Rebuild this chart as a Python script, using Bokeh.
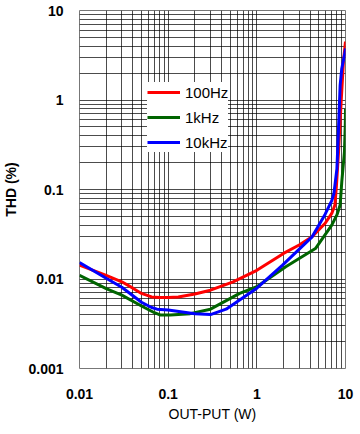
from bokeh.plotting import figure
from bokeh.models import FixedTicker, Legend, LegendItem
from bokeh.embed import file_html
from bokeh.resources import INLINE

# Data
x_100 = [0.01, 0.02, 0.03, 0.04, 0.05, 0.065, 0.08, 0.1, 0.13, 0.2, 0.3, 0.54, 1.0, 2.0, 3.0, 4.2, 5.9, 7.0, 7.6, 7.9, 8.34, 8.93, 9.48, 10.0]
y_100 = [0.0143, 0.011, 0.0093, 0.0079, 0.0069, 0.0063, 0.0062, 0.0062, 0.0063, 0.0068, 0.0075, 0.0093, 0.0125, 0.0193, 0.024, 0.0296, 0.042, 0.054, 0.067, 0.11, 0.26, 0.95, 2.7, 4.5]

x_1k = [0.01, 0.02, 0.03, 0.05, 0.07, 0.082, 0.106, 0.177, 0.3, 0.64, 1.0, 2.12, 4.58, 7.0, 8.0, 8.7, 9.08, 9.73, 9.95, 10.0]
y_1k = [0.011, 0.0078, 0.0066, 0.005, 0.0042, 0.00395, 0.00395, 0.0041, 0.0046, 0.0069, 0.0082, 0.0137, 0.0219, 0.04, 0.052, 0.067, 0.122, 0.264, 0.55, 0.8]

x_10k = [0.01, 0.02, 0.03, 0.05, 0.065, 0.075, 0.1, 0.2, 0.3, 0.45, 1.0, 1.95, 4.2, 5.9, 7.0, 7.4, 8.0, 8.34, 8.7, 9.08, 9.9, 10.0]
y_10k = [0.0153, 0.0102, 0.0081, 0.0055, 0.0048, 0.0046, 0.0045, 0.0041, 0.0040, 0.0046, 0.0079, 0.0143, 0.0296, 0.053, 0.075, 0.09, 0.17, 0.48, 1.46, 2.25, 3.45, 3.76]

series_labels = ["100Hz", "1kHz", "10kHz"]
series_colors = ["#ff0000", "#006400", "#0000ff"]

x_ticks = [0.01, 0.1, 1, 10]
y_ticks = [0.001, 0.01, 0.1, 1, 10]
x_tick_labels = {0.01: "0.01", 0.1: "0.1", 1: "1", 10: "10"}
y_tick_labels = {0.001: "0.001", 0.01: "0.01", 0.1: "0.1", 1: "1", 10: "10"}

def minors(decades):
    out = []
    for d in decades:
        for m in range(2, 10):
            out.append(round(m * d, 6))
    return out

p = figure(width=356, height=428, x_axis_type="log", y_axis_type="log",
           x_range=(0.01, 10), y_range=(0.001, 10),
           output_backend="svg", toolbar_location=None,
           min_border_left=76, min_border_right=11, min_border_top=10, min_border_bottom=60)

p.background_fill_color = "white"
p.border_fill_color = "white"
p.outline_line_color = "#777777"

p.xaxis.ticker = FixedTicker(ticks=x_ticks, minor_ticks=minors([0.01, 0.1, 1]))
p.yaxis.ticker = FixedTicker(ticks=y_ticks, minor_ticks=minors([0.001, 0.01, 0.1, 1]))
p.xaxis.major_label_overrides = x_tick_labels
p.yaxis.major_label_overrides = y_tick_labels

for ax in (p.xaxis, p.yaxis):
    ax.axis_line_color = None
    ax.major_tick_line_color = None
    ax.minor_tick_line_color = None
    ax.major_tick_out = 0
    ax.minor_tick_out = 0
    ax.major_tick_in = 0
    ax.minor_tick_in = 0
    ax.major_label_text_font = "Liberation Sans"
    ax.major_label_text_font_size = "14px"
    ax.major_label_text_font_style = "bold"
    ax.major_label_text_color = "black"
    ax.axis_label_text_font = "Liberation Sans"
    ax.axis_label_text_font_size = "14px"
    ax.axis_label_text_color = "black"

p.xaxis.major_label_standoff = 20
p.yaxis.major_label_standoff = 16
p.xaxis.axis_label = "OUT-PUT (W)"
p.yaxis.axis_label = "THD (%)"
p.xaxis.axis_label_text_font_style = "normal"
p.yaxis.axis_label_text_font_style = "bold"
p.xaxis.axis_label_standoff = 4
p.yaxis.axis_label_standoff = 6

for g in (p.xgrid, p.ygrid):
    g.grid_line_color = "black"
    g.grid_line_alpha = 0.7
    g.grid_line_width = 1
    g.minor_grid_line_color = "black"
    g.minor_grid_line_alpha = 0.7
    g.minor_grid_line_width = 1

r1 = p.line(x_100, y_100, line_color=series_colors[0], line_width=3, line_join="round")
r2 = p.line(x_1k, y_1k, line_color=series_colors[1], line_width=3, line_join="round")
r3 = p.line(x_10k, y_10k, line_color=series_colors[2], line_width=3, line_join="round")

legend = Legend(items=[LegendItem(label=series_labels[0], renderers=[r1]),
                       LegendItem(label=series_labels[1], renderers=[r2]),
                       LegendItem(label=series_labels[2], renderers=[r3])],
                location=(68, 216), orientation="vertical",
                glyph_width=33, glyph_height=20, label_height=20, label_width=40,
                spacing=5, padding=2, margin=0, label_standoff=5,
                border_line_color=None, background_fill_color="white", background_fill_alpha=1.0,
                label_text_font="Liberation Sans", label_text_font_size="15px",
                label_text_color="black")
p.add_layout(legend, "center")

open("out.html", "w").write(file_html(p, INLINE))
